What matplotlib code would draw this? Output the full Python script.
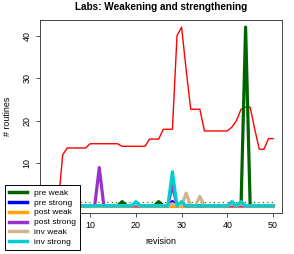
import matplotlib
matplotlib.use("Agg")
import matplotlib.pyplot as plt

plt.rcParams['font.family'] = ['Liberation Sans', 'DejaVu Sans']

revision = list(range(1, 51))

# total routines (red line)
total = [0, 0, 0, 12, 13.6, 13.6, 13.6, 13.6, 13.6, 14.6,
         14.6, 14.6, 14.6, 14.6, 14.6, 14.6, 14, 14, 14, 14,
         14, 14, 15.7, 15.7, 15.7, 18, 18, 18, 40, 42,
         32, 22.7, 22.7, 22.7, 17.6, 17.6, 17.6, 17.6, 17.6, 17.6,
         18.5, 20, 22.7, 23.2, 23.2, 18, 13.3, 13.3, 15.8, 15.8]

pre_weak = [0, 0, 0, 0, 0, 0, 0, 0, 0, 0,
            0, 0, 0, 0, 0, 0, 1, 0, 0, 0,
            0, 0, 0, 0, 1, 0, 0, 0, 0, 0,
            0, 0, 0, 0, 0, 0, 0, 0, 0, 0,
            0, 0, 0, 42, 0, 0, 0, 0, 0, 0]
pre_strong = [0, 0, 0, 0, 0, 0, 0, 0, 0, 0,
              0, 0, 0, 0, 0, 0, 0, 0, 0, 0,
              0, 0, 0, 0, 0, 0, 0, 1, 0, 0,
              0, 0, 0, 0, 0, 0, 0, 0, 0, 0,
              0, 0, 0, 0, 0, 0, 0, 0, 0, 0]
post_weak = [0] * 50
post_strong = [0, 0, 0, 0, 0, 0, 0, 0, 0, 0,
               0, 9, 0, 0, 0, 0, 0, 0, 0, 0,
               0, 0, 0, 0, 0, 0, 0, 5, 0, 0.5,
               0, 0, 0, 0, 0, 0, 0, 0, 0, 0,
               0, 0, 0, 0, 0, 0, 0, 0, 0, 0]
inv_weak = [0, 0, 0, 0, 0, 0, 0, 0, 0, 0,
            0, 0, 0, 0, 0, 0, 0, 0, 0, 0.5,
            0, 0, 0, 0, 0, 0, 0, 0.5, 0, 0,
            3, 0, 0, 2.2, 0, 0, 0, 0, 0, 0,
            0.5, 0, 0.5, 0, 0, 0, 0, 0, 0, 0]
inv_strong = [0, 0, 0, 0, 0, 0, 0, 0, 0, 0,
              0, 0, 0, 0, 0, 0, 0, 0, 0, 1,
              0, 0, 0, 0, 0, 0, 0, 8, 0, 1,
              0, 0, 0, 0, 0, 0, 0, 0, 0, 0,
              1, 0, 1, 0, 0, 0, 0, 0, 0, 0]
threshold = [1] * 50

series = [("pre weak", pre_weak, "#006400"),
          ("pre strong", pre_strong, "#0000FF"),
          ("post weak", post_weak, "#FFA500"),
          ("post strong", post_strong, "#9932CC"),
          ("inv weak", inv_weak, "#D2B48C"),
          ("inv strong", inv_strong, "#00CED1")]

fig = plt.figure(figsize=(2.94, 2.54), dpi=100)
ax = fig.add_axes([40 / 294, 41 / 254, 242 / 294, 193 / 254])

ax.plot(revision, total, color="red", lw=1.0)
ax.plot(revision, threshold, color="#006400", lw=0.8, ls=(0, (1, 3)))
for name, vals, col in series:
    ax.plot(revision, vals, color=col, lw=2.3, label=name, solid_joinstyle="round")

ax.set_xlim(1 - 0.04 * 49, 50 + 0.04 * 49)
ax.set_ylim(-0.04 * 42, 42 * 1.04)
# ticks at 0 sit under the legend in the original
ax.set_xticks([10, 20, 30, 40, 50])
ax.set_yticks([10, 20, 30, 40])
ax.tick_params(labelsize=6.4, length=3, width=0.6, pad=3, colors="#333333", labelcolor="black")
for lab in ax.get_yticklabels():
    lab.set_rotation(90)
    lab.set_va("center")
for sp in ax.spines.values():
    sp.set_linewidth(0.7)
    sp.set_color("#444444")

ax.set_title("Labs: Weakening and strengthening", fontsize=7.2, fontweight="bold", pad=7)
ax.set_xlabel("revision", fontsize=6.4, labelpad=5)
ax.set_ylabel("# routines", fontsize=6.4, labelpad=8)

leg = fig.legend(loc="lower left", bbox_to_anchor=(5 / 294, 4 / 254), fontsize=6.0,
                 frameon=True, fancybox=False, framealpha=1, edgecolor="black",
                 handlelength=2.2, handletextpad=0.8, labelspacing=0.25,
                 borderpad=0.45, borderaxespad=0)
leg.get_frame().set_linewidth(0.7)
for line in leg.get_lines():
    line.set_linewidth(2.5)

fig.savefig("out.png", dpi=100)
